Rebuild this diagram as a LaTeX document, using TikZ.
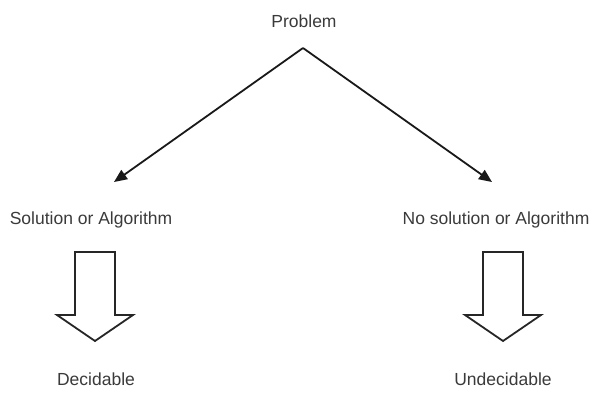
\documentclass[tikz,border=0pt]{standalone}
\usepackage{fontspec}
\setmainfont{Liberation Sans}
\usetikzlibrary{arrows.meta}
\definecolor{txt}{HTML}{3A3A3A}
\begin{document}
\begin{tikzpicture}[x=1pt,y=-1pt,
  lbl/.style={text=txt,font=\fontsize{17.5}{19}\selectfont,inner sep=0pt,anchor=center},
  conn/.style={line width=1.8pt,draw=black!90,-{Triangle[length=13pt,width=11pt]}},
  blockarrow/.style={line width=1.8pt,draw=black!85,fill=white,line join=miter}]
\useasboundingbox (0,0) rectangle (609,393);
\node[lbl] (prob) at (304,21) {Problem};
\node[lbl] (sol) at (91,220) {Solution or Algorithm};
\node[lbl] (nosol) at (496,220) {No solution or Algorithm};
\node[lbl] (dec) at (96,379) {Decidable};
\node[lbl] (und) at (503,379) {Undecidable};
\coordinate (apex) at (303,48);
\coordinate (ltip) at (114,182);
\coordinate (rtip) at (492,182);
\draw[conn] (apex) -- (ltip);
\draw[conn] (apex) -- (rtip);
\foreach \c in {95,503}{
  \draw[blockarrow] (\c-20,252) -- (\c+20,252) -- (\c+20,315) -- (\c+38,315) -- (\c,341) -- (\c-38,315) -- (\c-20,315) -- cycle;
}
\end{tikzpicture}
\end{document}
